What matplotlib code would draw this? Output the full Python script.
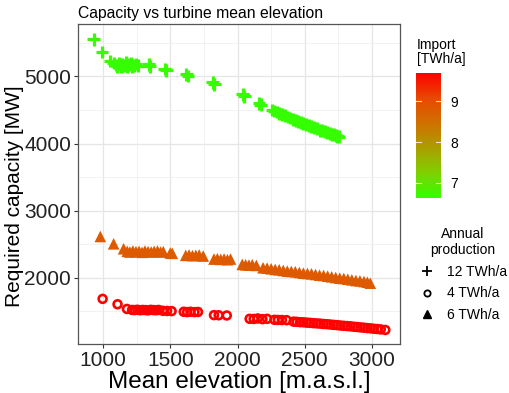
import matplotlib
matplotlib.use('Agg')
from matplotlib import pyplot as plt
from matplotlib.colors import LinearSegmentedColormap
from matplotlib.lines import Line2D

plt.rcParams['font.family'] = ['Liberation Sans', 'DejaVu Sans']

# 12 TWh/a (pluses)
elev_12 = [930, 993, 1054, 1080, 1093, 1105, 1118, 1130, 1142, 1155, 1168, 1180, 1192, 1205,
           1218, 1230, 1242, 1262, 1339, 1348, 1458, 1470, 1618, 1632, 1815, 1828, 2040, 2050,
           2160, 2172, 2256, 2272, 2290, 2310, 2330, 2350, 2372, 2392, 2412, 2432, 2452, 2470,
           2490, 2510, 2530, 2550, 2570, 2590, 2610, 2630, 2650, 2668, 2685, 2700, 2715, 2730,
           2742, 2755]
cap_12 = [5552, 5363, 5228, 5200, 5170, 5150, 5195, 5140, 5180, 5160, 5205, 5150, 5175, 5190,
          5145, 5165, 5185, 5160, 5179, 5150, 5110, 5090, 5030, 5005, 4910, 4880, 4731, 4705,
          4600, 4580, 4500, 4485, 4470, 4450, 4430, 4420, 4395, 4380, 4360, 4345, 4330, 4310,
          4300, 4280, 4265, 4250, 4235, 4220, 4200, 4190, 4175, 4160, 4150, 4140, 4130, 4120,
          4110, 4100]

# 6 TWh/a (triangles)
elev_6 = [980, 1079, 1153, 1180, 1200, 1222, 1245, 1268, 1290, 1312, 1335, 1358, 1380, 1405,
          1428, 1448, 1500, 1515, 1615, 1640, 1665, 1690, 1715, 1745, 1825, 1850, 1875, 1900,
          1925, 1948, 2035, 2060, 2085, 2110, 2140, 2190, 2220, 2250, 2280, 2310, 2340, 2370,
          2400, 2430, 2460, 2490, 2520, 2550, 2580, 2610, 2640, 2670, 2700, 2730, 2760, 2790,
          2820, 2850, 2880, 2910, 2940, 2965, 2987]
cap_6 = [2616, 2507, 2433, 2395, 2385, 2400, 2390, 2395, 2380, 2400, 2390, 2385, 2395, 2400,
         2385, 2390, 2370, 2365, 2335, 2340, 2330, 2335, 2340, 2325, 2280, 2285, 2275, 2280,
         2270, 2280, 2200, 2195, 2190, 2195, 2185, 2150, 2145, 2135, 2125, 2120, 2110, 2100,
         2095, 2090, 2080, 2070, 2065, 2060, 2050, 2040, 2035, 2025, 2015, 2005, 1995, 1990,
         1980, 1970, 1960, 1955, 1945, 1935, 1921]

# 4 TWh/a (circles)
elev_4 = [997, 1108, 1178, 1216, 1235, 1255, 1275, 1295, 1315, 1335, 1355, 1375, 1395, 1413,
          1445, 1476, 1510, 1600, 1625, 1650, 1680, 1706, 1825, 1860, 1920, 2090, 2120, 2150,
          2185, 2220, 2275, 2300, 2330, 2365, 2417, 2440, 2465, 2490, 2515, 2540, 2565, 2590,
          2615, 2640, 2665, 2690, 2715, 2740, 2765, 2790, 2815, 2840, 2865, 2890, 2915, 2940,
          2965, 2990, 3015, 3040, 3065, 3099]
cap_4 = [1687, 1607, 1537, 1522, 1520, 1525, 1518, 1522, 1520, 1516, 1524, 1520, 1518, 1522,
         1510, 1507, 1505, 1495, 1490, 1495, 1490, 1492, 1445, 1443, 1440, 1390, 1388, 1395,
         1385, 1390, 1375, 1373, 1372, 1370, 1348, 1345, 1340, 1338, 1333, 1330, 1325, 1322,
         1318, 1313, 1310, 1305, 1300, 1296, 1290, 1286, 1282, 1278, 1272, 1268, 1262, 1258,
         1252, 1248, 1242, 1238, 1232, 1224]

# import [TWh/a] per series
import_12 = 6.65
import_6 = 8.8
import_4 = 9.67
imp_min, imp_max = 6.63, 9.69

cmap = LinearSegmentedColormap.from_list(
    'gr', ['#33ff00', '#80d000', '#aa9e00', '#d07000', '#e84800', '#ff0000'])

fig = plt.figure(figsize=(5.1, 3.93), dpi=100)
ax = fig.add_axes([78/510, 1-344/393, 322/510, 320/393])

ax.scatter(elev_12, cap_12, c=[import_12]*len(elev_12), cmap=cmap, vmin=imp_min, vmax=imp_max,
           marker='+', s=85, linewidths=2.3, zorder=3)
sc = ax.scatter(elev_4, cap_4, c=[import_4]*len(elev_4), cmap=cmap, vmin=imp_min, vmax=imp_max,
                marker='o', s=32, facecolors='none', linewidths=1.9, zorder=3)
sc.set_facecolor('none')
sc.set_edgecolor(cmap((import_4 - imp_min) / (imp_max - imp_min)))
ax.scatter(elev_6, cap_6, c=[import_6]*len(elev_6), cmap=cmap, vmin=imp_min, vmax=imp_max,
           marker='^', s=70, linewidths=0, zorder=3)

ax.set_xlim(814, 3208)
ax.set_ylim(1015, 5780)
ax.set_xticks([1000, 1500, 2000, 2500, 3000])
ax.set_yticks([2000, 3000, 4000, 5000])
ax.set_xticks([1250, 1750, 2250, 2750], minor=True)
ax.set_yticks([1500, 2500, 3500, 4500, 5500], minor=True)
ax.grid(which='major', color='#e6e6e6', lw=0.9)
ax.grid(which='minor', color='#f0f0f0', lw=0.6)
ax.set_axisbelow(True)
ax.tick_params(which='major', labelsize=15, length=3, color='#333333', labelcolor='#222222', pad=2)
ax.tick_params(which='minor', length=0)
for s in ax.spines.values():
    s.set_color('#555555')
    s.set_linewidth(0.9)

ax.set_xlabel('Mean elevation [m.a.s.l.]', fontsize=17.5, labelpad=1)
ax.set_ylabel('Required capacity [MW]', fontsize=15)
ax.yaxis.set_label_coords(-(78 - 24) / 322, (344 - 196) / 320)
ax.set_title('Capacity vs turbine mean elevation', fontsize=11.3, loc='left', pad=4)

# colour bar
cax = fig.add_axes([416/510, 1-198/393, 25/510, 125/393])
cb = fig.colorbar(plt.cm.ScalarMappable(norm=plt.Normalize(imp_min, imp_max), cmap=cmap), cax=cax)
cb.outline.set_visible(False)
cb.set_ticks([7, 8, 9])
cax.tick_params(length=0, labelsize=10, pad=7)
for v in [7, 8, 9]:
    cax.axhline(v, xmin=0, xmax=0.2, color='white', lw=0.8, alpha=0.8)
    cax.axhline(v, xmin=0.8, xmax=1, color='white', lw=0.8, alpha=0.8)
fig.text(417/510, 1-52/393, 'Import\n[TWh/a]', fontsize=10, ha='left', va='center', linespacing=1.0)

# shape legend
handles = [
    Line2D([], [], marker='+', color='black', ls='none', markersize=7, markeredgewidth=1.3),
    Line2D([], [], marker='o', color='black', ls='none', markersize=4.5, markerfacecolor='none',
           markeredgewidth=1.3),
    Line2D([], [], marker='^', color='black', ls='none', markersize=6),
]
leg = fig.legend(handles, ['12 TWh/a', '4 TWh/a', '6 TWh/a'], title='Annual\nproduction',
                 loc='upper left', bbox_to_anchor=(412/510, 1-220/393), frameon=False,
                 fontsize=10, title_fontsize=10, handlelength=1.2, handletextpad=0.8,
                 labelspacing=0.55, borderpad=0)
leg.get_title().set_multialignment('center')

fig.savefig('out.png', dpi=100)
